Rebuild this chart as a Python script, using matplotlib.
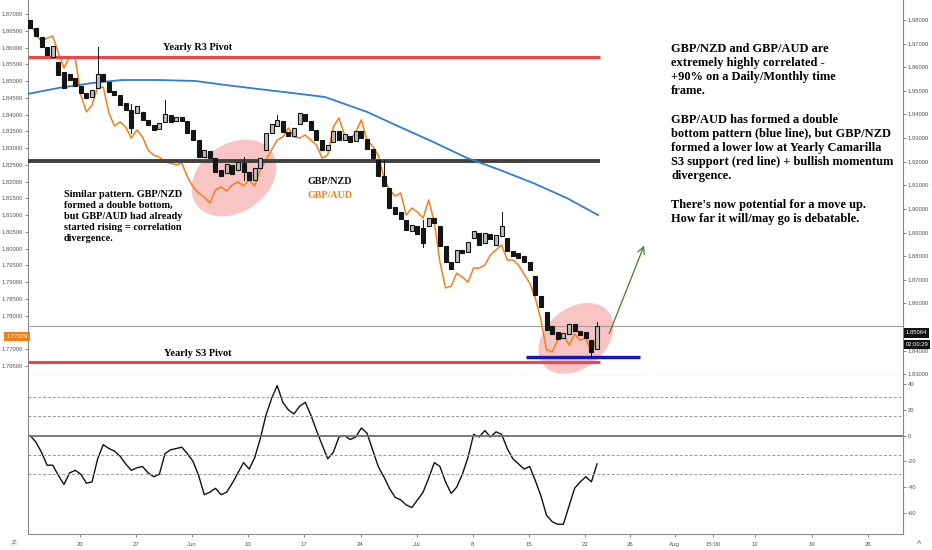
import numpy as np
import matplotlib.pyplot as plt
from matplotlib.patches import Ellipse
from matplotlib.transforms import Affine2D, blended_transform_factory

# 12h bars, x measured in "days" from May 20 (weekends squeezed out like TradingView)
n_bars = 102
bar_x = -6.2 + 0.7 * np.arange(n_bars)

# GBP/NZD candles (right scale)
nzd_open = [1.9800, 1.9766, 1.9728, 1.9686, 1.9643, 1.9622, 1.9580, 1.9571, 1.9555, 1.9521,
            1.9491, 1.9474, 1.9512, 1.9571, 1.9538, 1.9500, 1.9483, 1.9449, 1.9419, 1.9406,
            1.9411, 1.9377, 1.9356, 1.9339, 1.9368, 1.9398, 1.9372, 1.9389, 1.9372, 1.9334,
            1.9292, 1.9220, 1.9245, 1.9216, 1.9165, 1.9152, 1.9186, 1.9165, 1.9195, 1.9157,
            1.9123, 1.9173, 1.9250, 1.9322, 1.9351, 1.9372, 1.9326, 1.9309, 1.9360, 1.9402,
            1.9372, 1.9334, 1.9292, 1.9250, 1.9284, 1.9330, 1.9292, 1.9309, 1.9288, 1.9330,
            1.9296, 1.9254, 1.9207, 1.9140, 1.9089, 1.9008, 1.8987, 1.8953, 1.8907, 1.8928,
            1.8919, 1.8928, 1.8962, 1.8928, 1.8843, 1.8775, 1.8775, 1.8826, 1.8818, 1.8877,
            1.8898, 1.8856, 1.8894, 1.8847, 1.8886, 1.8877, 1.8822, 1.8814, 1.8801, 1.8775,
            1.8716, 1.8632, 1.8564, 1.8505, 1.8479, 1.8454, 1.8471, 1.8513, 1.8483, 1.8479,
            1.8445, 1.8407]
nzd_close = [1.9766, 1.9732, 1.9686, 1.9652, 1.9690, 1.9567, 1.9512, 1.9546, 1.9521, 1.9491,
             1.9470, 1.9504, 1.9571, 1.9542, 1.9495, 1.9483, 1.9440, 1.9419, 1.9343, 1.9436,
             1.9377, 1.9356, 1.9334, 1.9364, 1.9402, 1.9368, 1.9389, 1.9372, 1.9322, 1.9292,
             1.9220, 1.9250, 1.9216, 1.9157, 1.9140, 1.9190, 1.9148, 1.9199, 1.9157, 1.9123,
             1.9173, 1.9216, 1.9322, 1.9360, 1.9377, 1.9326, 1.9309, 1.9343, 1.9406, 1.9372,
             1.9334, 1.9292, 1.9250, 1.9271, 1.9330, 1.9292, 1.9317, 1.9284, 1.9330, 1.9300,
             1.9254, 1.9216, 1.9140, 1.9097, 1.9004, 1.8979, 1.8958, 1.8911, 1.8932, 1.8894,
             1.8856, 1.8962, 1.8941, 1.8843, 1.8775, 1.8746, 1.8826, 1.8814, 1.8860, 1.8907,
             1.8847, 1.8898, 1.8873, 1.8890, 1.8928, 1.8822, 1.8801, 1.8792, 1.8775, 1.8742,
             1.8636, 1.8585, 1.8488, 1.8471, 1.8450, 1.8475, 1.8513, 1.8483, 1.8466, 1.8454,
             1.8394, 1.8506]
wick_bar = [12, 18, 24, 38, 44, 63, 70, 84, 100, 101]
wick_high = [1.9686, 1.9444, 1.9461, 1.9220, 1.9398, 1.9207, 1.8953, 1.8987, 1.8445, 1.8521]
wick_low = [1.9512, 1.9322, 1.9368, 1.9123, 1.9351, 1.9097, 1.8839, 1.8886, 1.8373, 1.8407]

# GBP/AUD closes (left scale)
aud_close = [1.8673, 1.8637, 1.8619, 1.8628, 1.8634, 1.8584, 1.8539, 1.8572, 1.8569, 1.8458,
             1.8408, 1.8428, 1.8482, 1.8482, 1.8405, 1.8366, 1.8378, 1.8363, 1.8330, 1.8354,
             1.8333, 1.8294, 1.8279, 1.8273, 1.8258, 1.8255, 1.8250, 1.8255, 1.8214, 1.8184,
             1.8166, 1.8154, 1.8136, 1.8175, 1.8184, 1.8172, 1.8190, 1.8199, 1.8187, 1.8205,
             1.8187, 1.8235, 1.8264, 1.8294, 1.8324, 1.8333, 1.8360, 1.8333, 1.8330, 1.8339,
             1.8324, 1.8309, 1.8270, 1.8279, 1.8363, 1.8390, 1.8339, 1.8324, 1.8348, 1.8384,
             1.8324, 1.8306, 1.8279, 1.8214, 1.8175, 1.8157, 1.8166, 1.8100, 1.8121, 1.8109,
             1.8091, 1.8145, 1.8079, 1.7960, 1.7883, 1.7888, 1.7927, 1.7915, 1.7900, 1.7942,
             1.7942, 1.7951, 1.7981, 1.7996, 1.8011, 1.7966, 1.7966, 1.7951, 1.7924, 1.7897,
             1.7853, 1.7787, 1.7698, 1.7692, 1.7727, 1.7745, 1.7712, 1.7745, 1.7727, 1.7733,
             1.7692, 1.7738]

# long moving average (right scale)
ma_x = [-6.49, -2.74, 1.50, 5.24, 9.73, 14.35, 18.09, 22.21, 26.45, 30.56,
        35.80, 39.92, 44.04, 48.28, 52.40, 56.51, 60.75, 64.62]
ma_val = [1.9487, 1.9512, 1.9533, 1.9546, 1.9546, 1.9542, 1.9525, 1.9508, 1.9491, 1.9474,
          1.9411, 1.9347, 1.9284, 1.9216, 1.9165, 1.9110, 1.9046, 1.8974]

# momentum oscillator
osc = [0, -5, -13, -23, -23, -31, -38, -29, -27, -30,
       -37, -36, -18, -7, -10, -12, -16, -22, -27, -25,
       -24, -29, -32, -30, -14, -11, -10, -9, -14, -20,
       -31, -46, -44, -41, -46, -44, -37, -29, -21, -26,
       -17, -2, 16, 29, 39, 26, 20, 17, 23, 26,
       16, 4, -7, -18, -13, -1, 0, -3, -1, 6,
       2, -11, -24, -32, -41, -48, -50, -54, -56, -50,
       -44, -33, -21, -24, -36, -45, -40, -30, -17, 1,
       -1, 4, -1, 3, 1, -10, -18, -22, -26, -24,
       -35, -47, -62, -67, -69, -69, -55, -41, -36, -32,
       -36, -22]
osc_levels = [30, 15, -15, -30]

# levels (right scale)
yearly_r3 = 1.9643
mid_level = 1.9203
yearly_s3 = 1.8352
double_bottom = 1.8375
nzd_last = 1.85064
aud_last = 1.77379
level_end = 64.87
db_start, db_end = 55.64, 69.86

tick_pos = [0, 7, 14, 21, 28, 35, 42, 49, 56, 63, 68.6, 74.2, 79, 84.2, 91.3, 98.3]
tick_lab = ['20', '27', 'Jun', '10', '17', '24', 'Jul', '8', '15', '22', '26', 'Aug',
            '15:00', '12', '19', '26']

x_lo, x_hi = -6.49, 102.67
serif = 'Liberation Serif'
axis_col = '#8a8a8a'
lab_col = '#555555'

fig = plt.figure(figsize=(9.32, 5.5), dpi=100)
ax = fig.add_axes([28 / 932, 1 - 376 / 550, 875 / 932, 376 / 550])
ax_r = ax.twinx()
ax_o = fig.add_axes([28 / 932, 1 - 534 / 550, 875 / 932, 158 / 550])

ax.set_xlim(x_lo, x_hi)
ax.set_ylim(1.76200, 1.87418)
ax_r.set_ylim(1.82928, 1.98847)
ax_o.set_xlim(x_lo, x_hi)
ax_o.set_ylim(-76.6, 46.5)

# GBP/AUD line
ax.plot(bar_x, aud_close, color='#f57f17', lw=1.1, zorder=3)

# levels and MA
ax_r.plot([x_lo, level_end], [yearly_r3] * 2, color='#f04848', lw=2.2, solid_capstyle='butt')
ax_r.plot([x_lo, level_end], [mid_level] * 2, color='#404040', lw=2.8, solid_capstyle='butt')
ax_r.plot([x_lo, level_end], [yearly_s3] * 2, color='#f04848', lw=2.2, solid_capstyle='butt')
ax_r.axhline(nzd_last, color='#a0a0a0', lw=0.8)
ax_r.plot([db_start, db_end], [double_bottom] * 2, color='#1414c8', lw=2.4, solid_capstyle='butt')
ax_r.plot(ma_x, ma_val, color='#2f7fd0', lw=1.3)

# candles
for x, o, c in zip(bar_x, nzd_open, nzd_close):
    up = c >= o
    ax_r.bar(x, abs(c - o), bottom=min(o, c), width=0.5,
             color='#bdbdbd' if up else '#151515', edgecolor='#151515', lw=0.8, zorder=4)
for b, hi, lo in zip(wick_bar, wick_high, wick_low):
    ax_r.plot([bar_x[b]] * 2, [lo, hi], color='#151515', lw=0.7, zorder=3.5)

# highlight ellipses (size in pixels)
for (xc, yc, w, h, ang) in [(19.21, 1.9131, 92, 68, 35), (61.88, 1.8452, 84, 60, 40)]:
    cx, cy = ax_r.transData.transform((xc, yc))
    ax.add_patch(Ellipse((0, 0), w, h, angle=ang, transform=Affine2D().translate(cx, cy),
                         facecolor='#f28b8b', alpha=0.5, edgecolor='none', zorder=1))

# arrow
ax_r.annotate('', xy=(70.5, 1.8856), xytext=(65.9, 1.8462),
              arrowprops=dict(arrowstyle='->,head_length=0.5,head_width=0.25',
                              color='#4a7c2b', lw=0.9))

# texts
txt = dict(family=serif, fontweight='bold')
ax_r.text(14.66, 1.9682, 'Yearly R3 Pivot', ha='center', va='center', fontsize=7.4, **txt)
ax_r.text(14.66, 1.8390, 'Yearly S3 Pivot', ha='center', va='center', fontsize=7.4, **txt)
ax_r.text(-2.0, 1.9081,
          'Similar pattern. GBP/NZD\nformed a double bottom,\nbut GBP/AUD had already\n'
          'started rising = correlation\ndivergence.',
          ha='left', va='top', fontsize=7.4, linespacing=1.3, **txt)
ax_r.text(28.44, 1.9118, 'GBP/NZD', ha='left', va='center', fontsize=7.2, color='#111111', **txt)
ax_r.text(28.44, 1.9059, 'GBP/AUD', ha='left', va='center', fontsize=7.2, color='#f57f17', **txt)
ax_r.text(73.73, 1.9703,
          'GBP/NZD and GBP/AUD are\nextremely highly correlated -\n+90% on a Daily/Monthly time\n'
          'frame.\n\nGBP/AUD has formed a double\nbottom pattern (blue line), but GBP/NZD\n'
          'formed a lower low at Yearly Camarilla\nS3 support (red line) + bullish momentum\n'
          'divergence.\n\nThere\'s now potential for a move up.\nHow far it will/may go is debatable.',
          ha='left', va='top', fontsize=8.9, linespacing=1.24, **txt)

# oscillator
ax_o.plot(bar_x, osc, color='#111111', lw=1.0)
ax_o.axhline(0, color='#707070', lw=1.3)
for lv in osc_levels:
    ax_o.axhline(lv, color='#9a9a9a', lw=0.7, ls=(0, (3, 2)))

# axes styling
small = dict(labelsize=4.2, colors=lab_col, length=2, width=0.5, pad=1.5)
l_ticks = [v for v in np.arange(1.765, 1.8701, 0.005) if abs(v - 1.775) > 0.001]
ax.set_yticks(l_ticks)
ax.set_yticklabels(['%.5f' % v for v in l_ticks], family='Liberation Sans')
ax.tick_params(axis='y', **small)
ax.tick_params(axis='x', bottom=False, labelbottom=False)
r_ticks = [v for v in np.arange(1.83, 1.9801, 0.01) if abs(v - 1.85) > 0.001]
ax_r.set_yticks(r_ticks)
ax_r.set_yticklabels(['%.5f' % v for v in r_ticks], family='Liberation Sans')
ax_r.tick_params(axis='y', **small)
ax_o.set_yticks([40, 20, 0, -20, -40, -60])
ax_o.yaxis.tick_right()
ax_o.set_yticklabels(['40', '20', '0', '-20', '-40', '-60'], family='Liberation Sans')
ax_o.tick_params(axis='y', **small)
ax_o.set_xticks(tick_pos)
ax_o.set_xticklabels(tick_lab, family='Liberation Sans')
ax_o.tick_params(axis='x', labelsize=4.4, colors=lab_col, length=2, width=0.5, pad=4)

for a in (ax, ax_o):
    for s in a.spines.values():
        s.set_color(axis_col)
        s.set_linewidth(0.8)
ax.spines['top'].set_visible(False)
ax_o.spines['top'].set_visible(False)
for s in ax_r.spines.values():
    s.set_visible(False)

# price labels on the scales
lbl = dict(fontsize=4.2, color='white', family='Liberation Sans', va='center')
ax.text(-0.0005, aud_last, '1.77379', ha='right',
        transform=blended_transform_factory(ax.transAxes, ax.transData),
        bbox=dict(boxstyle='square,pad=0.35', fc='#f57f17', ec='none'), **lbl)
tr_r = blended_transform_factory(ax_r.transAxes, ax_r.transData)
ax_r.text(1.003, 1.8475, '1.85064', ha='left', transform=tr_r,
          bbox=dict(boxstyle='square,pad=0.35', fc='#111111', ec='none'), zorder=6, **lbl)
ax_r.text(1.003, 1.8428, '02:00:29', ha='left', transform=tr_r,
          bbox=dict(boxstyle='square,pad=0.35', fc='#111111', ec='none'), zorder=6, **lbl)

fig.text(14 / 932, 1 - 543 / 550, 'Z', fontsize=4.5, color='#666666', ha='center', va='center',
         bbox=dict(boxstyle='circle,pad=0.3', fc='#eeeeee', ec='none'))
fig.text(919 / 932, 1 - 543 / 550, 'A', fontsize=4.5, color='#666666', ha='center', va='center')

fig.savefig('out.png', dpi=100)
